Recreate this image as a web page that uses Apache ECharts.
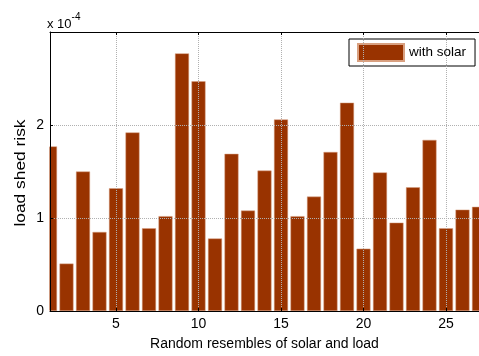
<!DOCTYPE html>
<html>
<head>
<meta charset="utf-8">
<script src="https://cdn.jsdelivr.net/npm/echarts@6/dist/echarts.min.js"></script>
<style>
  html, body {margin: 0; padding: 0; background: #fff;}
  #chart {width: 479px; height: 356px;}
</style>
</head>
<body>
<div id="chart"></div>
<script>
// sample index 1..27, load shed risk in units of 1e-4
const samples = [1, 2, 3, 4, 5, 6, 7, 8, 9, 10, 11, 12, 13, 14, 15, 16, 17, 18, 19, 20, 21, 22, 23, 24, 25, 26, 27];
const withSolar = [1.77, 0.51, 1.50, 0.85, 1.32, 1.92, 0.89, 1.02, 2.77, 2.47, 0.78, 1.69, 1.08, 1.51,
  2.06, 1.02, 1.23, 1.71, 2.24, 0.67, 1.49, 0.95, 1.33, 1.84, 0.89, 1.09, 1.12];
const xTicks = [5, 10, 15, 20, 25];
const yTicks = [0, 1, 2];

const font = 'Liberation Sans, Arial, sans-serif';
const myChart = echarts.init(document.getElementById('chart'));

const gridLine = {show: true, lineStyle: {color: '#b0b0b0', width: 1, type: [1, 1]}};

const option = {
  animation: false,
  grid: {left: 50, top: 32, right: -2, bottom: 42},
  legend: {
    left: 349,
    top: 39,
    padding: [4, 9, 4, 8],
    borderColor: '#000',
    borderWidth: 1,
    itemWidth: 46,
    itemHeight: 17,
    itemGap: 5,
    icon: 'rect',
    textStyle: {fontFamily: font, fontSize: 13.5, color: '#000'},
    data: ['with solar']
  },
  graphic: [{
    // hides the left half of the first bar, the way the axes box clips it
    type: 'rect',
    z: 5,
    shape: {x: 0, y: 32, width: 49.5, height: 282},
    style: {fill: '#fff'}
  }, {
    type: 'text',
    z: 6,
    x: 21.5,
    y: 173,
    rotation: Math.PI / 2,
    scaleX: 1.24,
    style: {
      text: 'load shed risk',
      fontFamily: font,
      fontSize: 14,
      fill: '#000',
      align: 'center',
      verticalAlign: 'middle'
    }
  }, {
    type: 'text',
    z: 6,
    left: 47,
    top: 12,
    style: {
      text: '{a|x 10}{b|-4}',
      rich: {
        a: {fontFamily: font, fontSize: 13, fill: '#000', padding: [6, 0, 0, 0]},
        b: {fontFamily: font, fontSize: 10, fill: '#000', verticalAlign: 'top'}
      }
    }
  }],
  xAxis: [{
    type: 'value',
    min: 1,
    max: 27,
    z: 10,
    name: 'Random resembles of solar and load',
    nameLocation: 'middle',
    nameGap: 26,
    nameTextStyle: {fontFamily: font, fontSize: 14, color: '#000'},
    axisLine: {show: true, lineStyle: {color: '#000', width: 1}},
    axisTick: {show: true, inside: true, length: 3, customValues: xTicks, lineStyle: {color: '#000'}},
    axisLabel: {customValues: xTicks, fontFamily: font, fontSize: 14, color: '#000', margin: 6},
    splitLine: gridLine
  }, {
    type: 'value',
    position: 'top',
    min: 1,
    max: 27,
    z: 10,
    axisLine: {show: true, onZero: false, lineStyle: {color: '#000', width: 1}},
    axisTick: {show: true, inside: true, length: 3, customValues: xTicks, lineStyle: {color: '#000'}},
    axisLabel: {show: false},
    splitLine: {show: false}
  }],
  yAxis: {
    type: 'value',
    min: 0,
    max: 3,
    z: 10,
    axisLine: {show: true, lineStyle: {color: '#000', width: 1}},
    axisTick: {show: true, inside: true, length: 3, customValues: yTicks, lineStyle: {color: '#000'}},
    axisLabel: {customValues: yTicks, fontFamily: font, fontSize: 14, color: '#000', margin: 6},
    splitLine: gridLine
  },
  series: [{
    name: 'with solar',
    type: 'bar',
    barWidth: 14,
    itemStyle: {color: '#993300', borderColor: '#d9a080', borderWidth: 0.5},
    data: samples.map((s, i) => [s, withSolar[i]])
  }]
};

myChart.setOption(option);
</script>
</body>
</html>
